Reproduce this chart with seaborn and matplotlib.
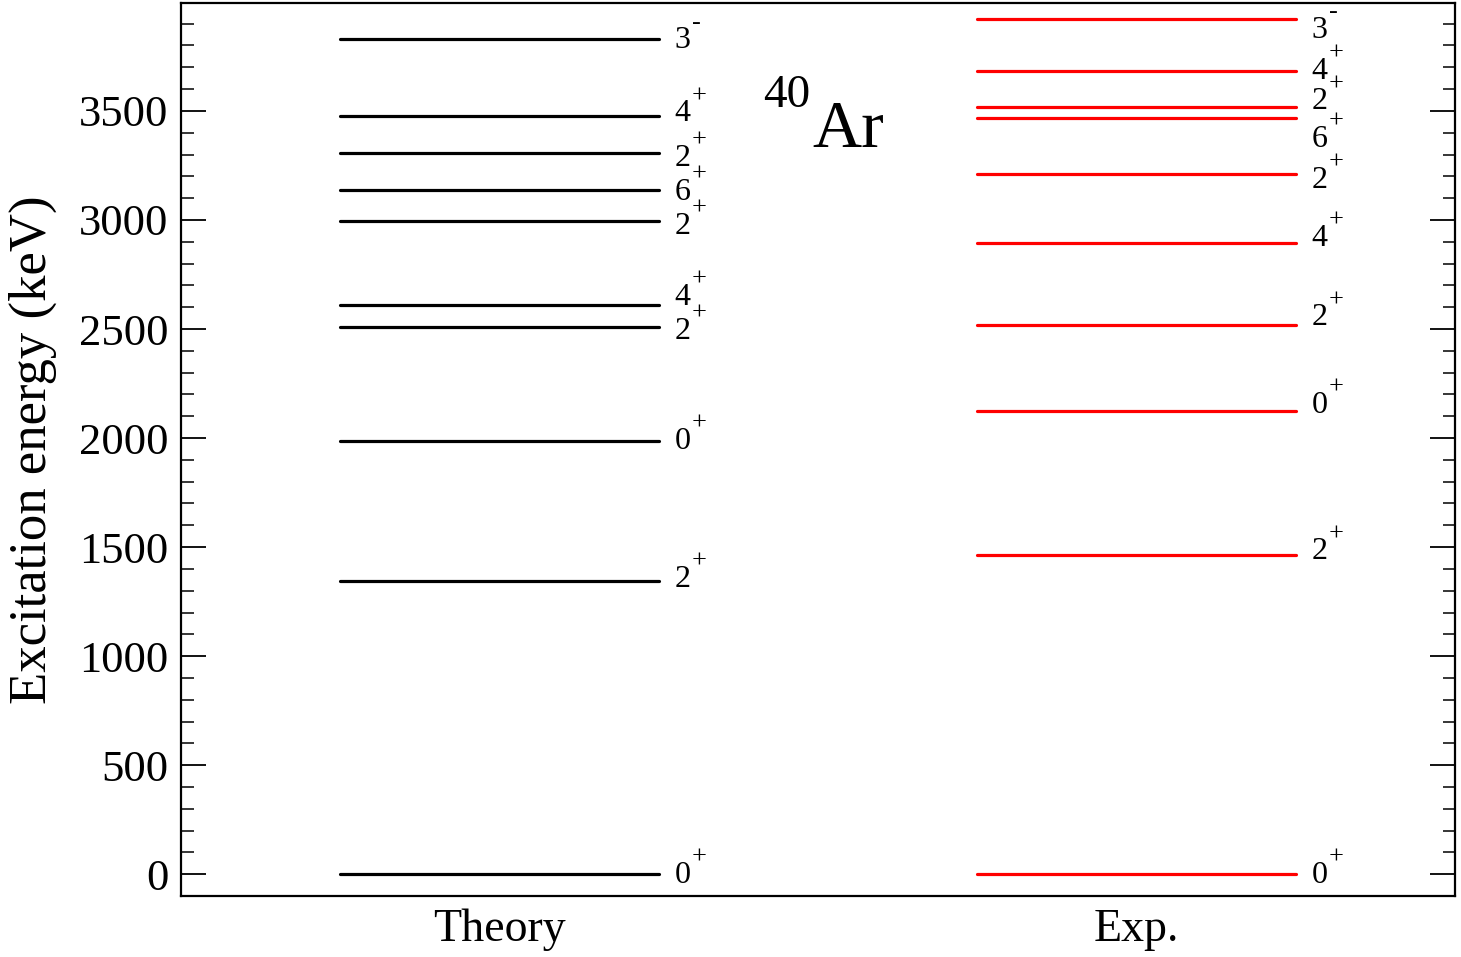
import numpy as np
import pandas as pd
import seaborn as sns
import matplotlib.pyplot as plt
from matplotlib.ticker import MultipleLocator

# level energies (keV) and spin-parity labels
theory_energy = [0, 1344, 1985, 2509, 2609, 2997, 3139, 3306, 3476, 3830]
theory_spin = ["0", "2", "0", "2", "4", "2", "6", "2", "4", "3"]
theory_parity = ["+", "+", "+", "+", "+", "+", "+", "+", "+", "-"]
theory_label_y = [0, 1358, 1989, 2493, 2649, 2975, 3133, 3289, 3491, 3828]

exp_energy = [0, 1463, 2124, 2518, 2896, 3212, 3468, 3517, 3685, 3922]
exp_spin = ["0", "2", "0", "2", "4", "2", "6", "2", "4", "3"]
exp_parity = ["+", "+", "+", "+", "+", "+", "+", "+", "+", "-"]
exp_label_y = [0, 1484, 2156, 2557, 2922, 3186, 3376, 3546, 3688, 3876]

columns = ["Theory", "Exp."]
col_pos = [0.25, 0.75]
half_width = 0.125

sns.set_theme(style="ticks")
plt.rcParams['font.family'] = ['Liberation Serif', 'DejaVu Serif']
for key in ['text.color', 'axes.labelcolor', 'xtick.color', 'ytick.color']:
    plt.rcParams[key] = 'black'

# long format table: two points per level segment
rows = []
for name, pos, energies in [("Theory", col_pos[0], theory_energy), ("Exp.", col_pos[1], exp_energy)]:
    for i, e in enumerate(energies):
        rows.append({"set": name, "level": f"{name}{i}", "x": pos - half_width, "E": e})
        rows.append({"set": name, "level": f"{name}{i}", "x": pos + half_width, "E": e})
df = pd.DataFrame(rows)

fig = plt.figure(figsize=(14.61, 9.57), dpi=100)
ax = fig.add_axes([0.1239, 0.0637, 0.872, 0.9332])

sns.lineplot(data=df, x="x", y="E", hue="set", units="level", estimator=None,
             palette={"Theory": "black", "Exp.": "red"}, linewidth=2.3,
             legend=False, ax=ax)

# J^pi labels: digit plus raised parity sign
for pos, spins, pars, ly in [(col_pos[0], theory_spin, theory_parity, theory_label_y),
                             (col_pos[1], exp_spin, exp_parity, exp_label_y)]:
    x0 = pos + half_width + 0.0125
    for s, p, y in zip(spins, pars, ly):
        ax.annotate(s, (x0, y), xytext=(0, -6.2), textcoords="offset points",
                    fontsize=23, ha="left", va="baseline")
        ax.annotate(p, (x0, y), xytext=(12.2, 7.6), textcoords="offset points",
                    fontsize=19, ha="left", va="baseline")

# nucleus label
ax.text(0.4568, 3518, "40", fontsize=34, ha="left", va="baseline")
ax.text(0.4953, 3335, "Ar", fontsize=49, ha="left", va="baseline")

ax.set_xlim(0, 1)
ax.set_ylim(-100, 3995)
ax.set_xticks(col_pos)
ax.set_xticklabels(columns)
ax.yaxis.set_major_locator(MultipleLocator(500))
ax.yaxis.set_minor_locator(MultipleLocator(100))
ax.tick_params(axis="x", length=0, labelsize=33, pad=9)
ax.tick_params(axis="y", which="major", direction="in", length=18, width=1.3,
               labelsize=32, left=True, right=True, pad=9)
ax.tick_params(axis="y", which="minor", direction="in", length=9, width=1.1,
               left=True, right=True)
ax.set_xlabel("")
ax.set_ylabel("Excitation energy (keV)", fontsize=38, labelpad=16)
for sp in ax.spines.values():
    sp.set_visible(True)
    sp.set_linewidth(1.6)
    sp.set_color("black")

fig.savefig("out.png", dpi=100)
